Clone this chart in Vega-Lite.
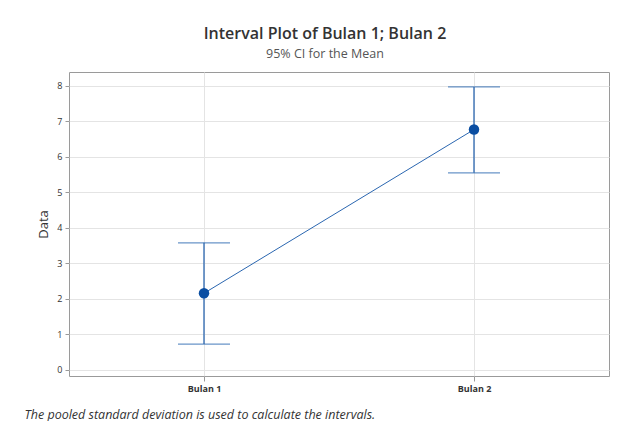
{
  "$schema": "https://vega.github.io/schema/vega-lite/v6.json",
  "autosize": {"type": "none"},
  "width": 540,
  "height": 304,
  "padding": {"left": 69, "top": 72, "right": 8, "bottom": 45},
  "background": "white",
  "title": {
    "text": "Interval Plot of Bulan 1; Bulan 2",
    "subtitle": "95% CI for the Mean",
    "font": "Open Sans",
    "fontSize": 16,
    "fontWeight": 600,
    "color": "#333333",
    "subtitleFont": "Open Sans",
    "subtitleFontSize": 12.5,
    "subtitleColor": "#555555",
    "subtitlePadding": 6,
    "anchor": "middle",
    "dx": -14,
    "offset": 12
  },
  "data": {
    "values": [
      {"group": "Bulan 1", "mean": 2.16, "lower": 0.73, "upper": 3.58},
      {"group": "Bulan 2", "mean": 6.77, "lower": 5.55, "upper": 7.97}
    ]
  },
  "config": {
    "view": {"stroke": "#9a9a9a", "strokeWidth": 1},
    "axis": {
      "domain": false,
      "gridColor": "#e4e4e4",
      "tickColor": "#9a9a9a",
      "tickSize": 4,
      "labelFont": "Open Sans",
      "labelColor": "#333333",
      "titleFont": "Open Sans",
      "titleColor": "#333333"
    }
  },
  "encoding": {
    "x": {
      "field": "group",
      "type": "nominal",
      "scale": {"type": "point", "padding": 0.5},
      "axis": {
        "title": "The pooled standard deviation is used to calculate the intervals.",
        "titleFontStyle": "italic",
        "titleFontWeight": "normal",
        "titleFontSize": 12.5,
        "titleAnchor": "start",
        "titleAlign": "left",
        "titleBaseline": "alphabetic",
        "titleX": -45,
        "titleY": 42,
        "labelAngle": 0,
        "labelFontSize": 9,
        "labelFontWeight": "bold",
        "labelPadding": 3,
        "tickSize": 5,
        "grid": true
      }
    },
    "y": {
      "field": "mean",
      "type": "quantitative",
      "scale": {"domain": [-0.17, 8.39], "nice": false, "zero": false},
      "axis": {
        "title": "Data",
        "titleFontSize": 13,
        "titleFontWeight": "normal",
        "titlePadding": 6,
        "values": [0, 1, 2, 3, 4, 5, 6, 7, 8],
        "labelOverlap": false,
        "labelFontSize": 9,
        "labelPadding": 3
      }
    }
  },
  "layer": [
    {
      "mark": {"type": "rule", "color": "#2a66b0", "strokeWidth": 1.3},
      "encoding": {
        "y": {
          "field": "lower",
          "type": "quantitative",
          "scale": {"domain": [-0.17, 8.39], "nice": false, "zero": false},
          "axis": {
            "title": "Data",
            "titleFontSize": 13,
            "titleFontWeight": "normal",
            "titlePadding": 6,
            "values": [0, 1, 2, 3, 4, 5, 6, 7, 8],
            "labelOverlap": false,
            "labelFontSize": 9,
            "labelPadding": 3
          }
        },
        "y2": {"field": "upper"}
      }
    },
    {
      "mark": {"type": "tick", "color": "#2a66b0", "size": 52, "thickness": 1.3},
      "encoding": {"y": {"field": "lower", "type": "quantitative", "axis": {"title": "Data", "values": [0, 1, 2, 3, 4, 5, 6, 7, 8], "labelOverlap": false}}}
    },
    {
      "mark": {"type": "tick", "color": "#2a66b0", "size": 52, "thickness": 1.3},
      "encoding": {"y": {"field": "upper", "type": "quantitative", "axis": {"title": "Data", "values": [0, 1, 2, 3, 4, 5, 6, 7, 8], "labelOverlap": false}}}
    },
    {
      "mark": {"type": "line", "color": "#2a66b0", "strokeWidth": 1}
    },
    {
      "mark": {"type": "point", "filled": true, "opacity": 1, "color": "#0b4ea2", "size": 110}
    }
  ]
}
